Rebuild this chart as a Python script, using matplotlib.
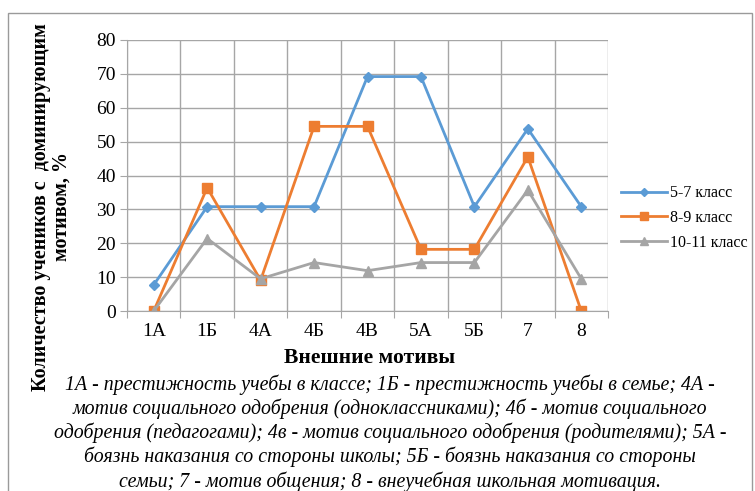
import numpy as np
import matplotlib.pyplot as plt
from matplotlib.patches import Rectangle

## Data
categories = ['1А', '1Б', '4А', '4Б', '4В', '5А', '5Б', '7', '8']
grade_5_7 = [7.7, 30.8, 30.8, 30.8, 69.2, 69.2, 30.8, 53.8, 30.8]
grade_8_9 = [0, 36.4, 9.1, 54.5, 54.5, 18.2, 18.2, 45.5, 0]
grade_10_11 = [0, 21.4, 9.5, 14.3, 11.9, 14.3, 14.3, 35.7, 9.5]
series_names = ['5-7 класс', '8-9 класс', '10-11 класс']
y_ticks = [0, 10, 20, 30, 40, 50, 60, 70, 80]

footnote = ('1А - престижность учебы в классе; 1Б - престижность учебы в семье; 4А -\n'
            'мотив социального одобрения (одноклассниками); 4б - мотив социального\n'
            'одобрения (педагогами); 4в - мотив социального одобрения (родителями); 5А -\n'
            'боязнь наказания со стороны школы; 5Б - боязнь наказания со стороны\n'
            'семьи; 7 - мотив общения; 8 - внеучебная школьная мотивация.')

## Styles
plt.rcParams['font.family'] = ['Liberation Serif', 'DejaVu Serif']
grid_color = '#A6A6A6'
W, H = 755, 491

fig = plt.figure(figsize=(W / 100, H / 100), dpi=100)

# chart frame
fig.patches.append(Rectangle((8 / W, -0.05), (752 - 8) / W, 1.05 - 13 / H,
                             transform=fig.transFigure, fill=False,
                             edgecolor='#9A9A9A', linewidth=1.0))

ax = fig.add_axes([127 / W, 1 - 311 / H, (608 - 127) / W, (311 - 40) / H])

x = np.arange(len(categories)) + 0.5
ax.plot(x, grade_5_7, color='#5B9BD5', lw=2.0, marker='D', ms=5, label=series_names[0])
ax.plot(x, grade_8_9, color='#ED7D31', lw=2.0, marker='s', ms=7.5, label=series_names[1])
ax.plot(x, grade_10_11, color='#A5A5A5', lw=2.0, marker='^', ms=7, label=series_names[2])

ax.set_xlim(0, len(categories))
ax.set_ylim(0, 80)
ax.set_yticks(y_ticks)
ax.set_xticks(np.arange(len(categories) + 1))
ax.set_xticklabels([])
ax.set_xticks(x, minor=True)
ax.set_xticklabels(categories, minor=True)
ax.tick_params(axis='x', which='minor', length=0, pad=9, labelsize=14)
ax.tick_params(axis='x', which='major', length=5, color=grid_color)
ax.tick_params(axis='y', length=5, color=grid_color, pad=3, labelsize=14)
ax.grid(True, which='major', color=grid_color, lw=1.0)
ax.set_axisbelow(True)
for side in ['top', 'right', 'bottom', 'left']:
    ax.spines[side].set_color(grid_color)
ax.spines['top'].set_visible(False)
ax.spines['right'].set_visible(False)

ax.legend(loc='center left', bbox_to_anchor=(621 / W, 1 - 218 / H),
          bbox_transform=fig.transFigure, frameon=False, fontsize=11.5,
          handlelength=2.9, handletextpad=0.15, labelspacing=0.55,
          borderpad=0, borderaxespad=0, markerscale=0.8)

fig.text(51 / W, 1 - 207 / H, 'Количество учеников с  доминирующим\nмотивом, %',
         rotation=90, ha='center', va='center', fontsize=14.5,
         fontweight='bold', linespacing=1.05)
fig.text(370 / W, 1 - 358 / H, 'Внешние мотивы', ha='center', va='center',
         fontsize=15.5, fontweight='bold')
fig.text(390 / W, 1 - 433 / H, footnote, ha='center', va='center',
         fontsize=14.3, style='italic', linespacing=1.24)

plt.savefig('out.png', dpi=100)
